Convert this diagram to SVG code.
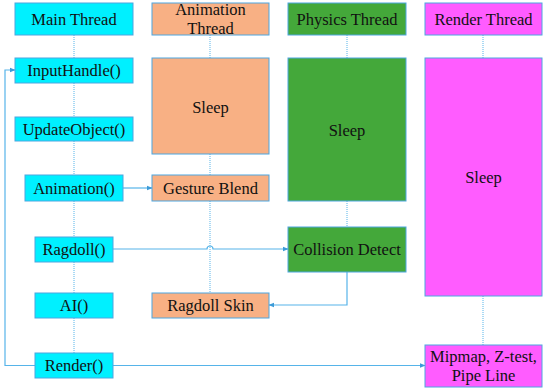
<svg xmlns="http://www.w3.org/2000/svg" width="550" height="392" viewBox="0 0 550 392">
<style>
text{font-family:'Liberation Serif','DejaVu Serif',serif;font-size:16.5px;fill:#111;text-anchor:middle}
.b{stroke:#4da6e0;stroke-width:1}
.main{fill:#00f0ff}
.anim{fill:#f8b084}
.phys{fill:#44a83a}
.rend{fill:#ff5cff}
.dot{stroke:#56b4e9;stroke-width:1;stroke-dasharray:1 1;fill:none}
.sol{stroke:#56b4e9;stroke-width:1.2;fill:none}
</style>
<defs>
<marker id="ah" viewBox="0 0 10 10" refX="9" refY="5" markerWidth="6" markerHeight="6" orient="auto" markerUnits="userSpaceOnUse">
<path d="M0,1 L10,5 L0,9 z" fill="#3c9bd8"/>
</marker>
</defs>
<rect width="550" height="392" fill="#fff"/>
<g id="connectors">
<path class="dot" d="M74,35 V58 M74,83 V117 M74,141 V175 M74,201 V237 M74,262 V293 M74,318 V353"/>
<path class="dot" d="M210,35 V58 M210,154 V175 M210,201 V293"/>
<path class="dot" d="M347,35 V58 M347,201 V227"/>
<path class="dot" d="M483,35 V58 M483,296 V345"/>
<path class="sol" d="M123,188 H152" marker-end="url(#ah)"/>
<path class="sol" d="M113,249 H207 A3,3 0 0 1 213,249 H288" marker-end="url(#ah)"/>
<path class="sol" d="M113,365.5 H425" marker-end="url(#ah)"/>
<path class="sol" d="M35,365.5 H5 V70 H15" marker-end="url(#ah)"/>
<path class="sol" d="M347,272 V305 H269" marker-end="url(#ah)"/>
</g>
<g id="main-thread"><rect class="b main" x="15" y="3" width="118" height="32"/><text x="74" y="24.5">Main Thread</text></g>
<g id="input-handle"><rect class="b main" x="15" y="58" width="118" height="25"/><text x="74" y="76">InputHandle()</text></g>
<g id="update-object"><rect class="b main" x="15" y="117" width="118" height="24"/><text x="74" y="134.5">UpdateObject()</text></g>
<g id="animation-fn"><rect class="b main" x="25" y="175" width="98" height="26"/><text x="74" y="193.5">Animation()</text></g>
<g id="ragdoll-fn"><rect class="b main" x="35" y="237" width="78" height="25"/><text x="74" y="255">Ragdoll()</text></g>
<g id="ai-fn"><rect class="b main" x="35" y="293" width="78" height="25"/><text x="74" y="311">AI()</text></g>
<g id="render-fn"><rect class="b main" x="35" y="353" width="78" height="25"/><text x="74" y="371">Render()</text></g>

<g id="animation-thread"><rect class="b anim" x="152" y="3" width="117" height="32"/><text x="210.5" y="15">Animation</text><text x="210.5" y="34">Thread</text></g>
<g id="anim-sleep"><rect class="b anim" x="152" y="58" width="117" height="96"/><text x="210.5" y="112.5">Sleep</text></g>
<g id="gesture-blend"><rect class="b anim" x="152" y="175" width="117" height="26"/><text x="210.5" y="193.5">Gesture Blend</text></g>
<g id="ragdoll-skin"><rect class="b anim" x="152" y="293" width="117" height="25"/><text x="210.5" y="311">Ragdoll Skin</text></g>

<g id="physics-thread"><rect class="b phys" x="288" y="3" width="118" height="32"/><text x="347" y="24.5">Physics Thread</text></g>
<g id="phys-sleep"><rect class="b phys" x="288" y="58" width="118" height="143"/><text x="347" y="135.5">Sleep</text></g>
<g id="collision-detect"><rect class="b phys" x="288" y="227" width="118" height="45"/><text x="347" y="255">Collision Detect</text></g>

<g id="render-thread"><rect class="b rend" x="425" y="3" width="117" height="32"/><text x="483.5" y="24.5">Render Thread</text></g>
<g id="render-sleep"><rect class="b rend" x="425" y="58" width="117" height="238"/><text x="483.5" y="182.5">Sleep</text></g>
<g id="mipmap"><rect class="b rend" x="425" y="345" width="117" height="42"/><text x="483.5" y="361.5">Mipmap, Z-test,</text><text x="483.5" y="381">Pipe Line</text></g>
</svg>
